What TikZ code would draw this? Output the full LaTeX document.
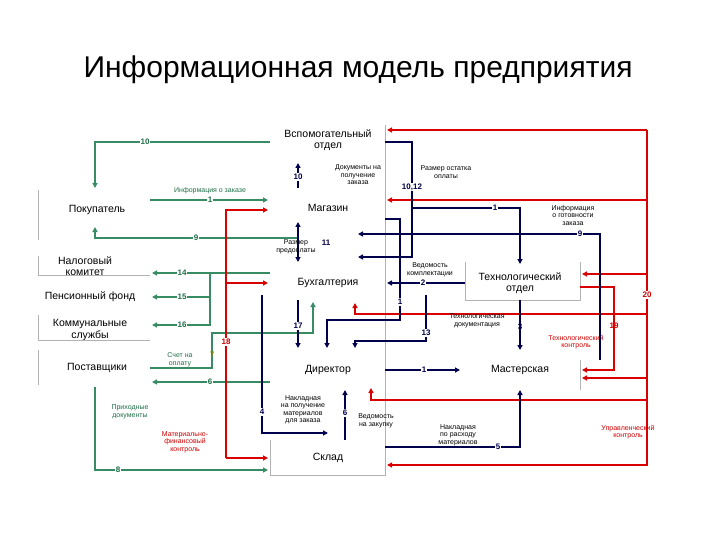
\documentclass[tikz,border=0pt]{standalone}
\usepackage{fontspec}
\setmainfont{Liberation Sans}
\usetikzlibrary{arrows.meta}
\definecolor{grn}{RGB}{55,140,100}
\definecolor{grt}{RGB}{30,110,70}
\begin{document}
\begin{tikzpicture}[x=1pt,y=-1pt,
  blk/.style={font=\fontsize{10.5}{11.5}\selectfont,align=center},
  sml/.style={font=\fontsize{7}{7.5}\selectfont,align=center,inner sep=1pt},
  num/.style={font=\bfseries\fontsize{8}{9}\selectfont,inner sep=1pt,fill=white},
  gr/.style={draw=grn,line width=1.4pt,-{Triangle[length=5pt,width=5pt]}},
  rd/.style={draw=red!85!black,line width=1.4pt,-{Triangle[length=5pt,width=5pt]}},
  nv/.style={draw=blue!30!black,line width=1.4pt,-{Triangle[length=5pt,width=5pt]}},
  frm/.style={draw=gray!60,line width=0.5pt}]
\useasboundingbox (0,0) rectangle (720,540);
\node[font=\fontsize{30}{33}\selectfont] (title) at (358,70) {Информационная модель предприятия};
% blocks
\node[blk] (pok) at (97,210) {Покупатель};
\node[blk] (nal) at (85,266) {Налоговый\\комитет};
\node[blk] (pen) at (90,297) {Пенсионный фонд};
\node[blk] (kom) at (90,330) {Коммунальные\\службы};
\node[blk] (pos) at (97,368) {Поставщики};
\node[blk] (vsp) at (328,140) {Вспомогательный\\отдел};
\node[blk] (mag) at (328,208) {Магазин};
\node[blk] (buh) at (328,283) {Бухгалтерия};
\node[blk] (dir) at (328,370) {Директор};
\node[blk] (skl) at (328,458) {Склад};
\node[blk] (teh) at (520,283) {Технологический\\отдел};
\node[blk] (mas) at (520,370) {Мастерская};
% frames
\draw[frm] (38,190) -- (38,240);
\draw[frm] (38,256) -- (38,275) -- (150,275);
\draw[frm] (38,315) -- (38,340) -- (150,340);
\draw[frm] (38,350) -- (38,385);
\draw[frm] (385,125) -- (385,475) -- (270,475) -- (270,440);
\draw[frm] (465,262) -- (465,300) -- (580,300) -- (580,262);
\draw[frm] (580,360) -- (580,390);
% green
\draw[gr] (270,142) -- (95,142) -- (95,188);
\node[num,text=grt] at (145,142) {10};
\draw[gr] (150,200) -- (268,200);
\node[sml,text=grt] at (210,191) {Информация о заказе};
\node[num,text=grt] at (210,200) {1};
\draw[gr] (298,228) -- (298,238) -- (95,238) -- (95,227);
\node[num,text=grt] at (196,238) {9};
\draw[gr] (270,273) -- (152,273);
\node[num,text=grt] at (182,273) {14};
\draw[gr] (210,273) -- (210,325) -- (152,325);
\node[num,text=grt] at (182,325) {16};
\draw[gr] (210,297) -- (152,297);
\node[num,text=grt] at (182,297) {15};
\draw[gr] (150,368) -- (212,368) -- (212,333) -- (313,333) -- (313,302);
\node[num,text=olive,fill=none] at (212,355) {7};
\node[sml,text=grt] at (180,360) {Счет на\\оплату};
\draw[gr] (270,382) -- (152,382);
\node[num,text=grt] at (210,382) {6};
\draw[gr] (95,387) -- (95,470) -- (268,470);
\node[num,text=grt] at (118,470) {8};
\node[sml,text=grt] at (130,412) {Приходные\\документы};
% red
\draw[rd] (226,458) -- (226,210) -- (268,210);
\draw[rd] (226,283) -- (268,283);
\draw[rd] (226,458) -- (268,458);
\node[num,text=red!80!black] at (226,342) {18};
\node[sml,text=red!80!black] at (185,442) {Материально-\\финансовый\\контроль};
\draw[rd] (647,130) -- (387,130);
\draw[rd] (647,130) -- (647,465) -- (387,465);
\draw[rd] (647,200) -- (387,200);
\draw[rd] (647,274) -- (582,274);
\draw[rd] (647,378) -- (582,378);
\node[num,text=red!80!black] at (647,295) {20};
\draw[rd] (647,314) -- (355,314) -- (355,303);
\draw[rd] (647,400) -- (371,400) -- (371,388);
\draw[rd] (580,287) -- (614,287) -- (614,370) -- (582,370);
\node[num,text=red!80!black,fill=none] at (614,326) {19};
\node[sml,text=red!80!black] at (576,342) {Технологический\\контроль};
\node[sml,text=red!80!black] at (628,432) {Управленческий\\контроль};
% navy
\draw[nv] (298,188) -- (298,163);
\node[num,text=blue!30!black] at (298,177) {10};
\node[sml] at (358,175) {Документы на\\получение\\заказа};
\draw[nv,{Triangle[length=5pt,width=5pt]}-{Triangle[length=5pt,width=5pt]}] (298,222) -- (298,262);
\node[sml] at (296,247) {Размер\\предоплаты};
\node[num,text=blue!30!black,fill=none] at (326,243) {11};
\draw[nv] (385,142) -- (412,142) -- (412,257) -- (358,257);
\node[num,text=blue!30!black] at (412,187) {10,12};
\node[sml] at (446,172) {Размер остатка\\оплаты};
\draw[nv] (412,208) -- (520,208) -- (520,264);
\node[num,text=blue!30!black] at (495,208) {1};
\draw[nv] (600,360) -- (600,234) -- (358,234);
\node[sml] at (573,215) {Информация\\о готовности\\заказа};
\node[num,text=blue!30!black] at (580,234) {9};
\draw[nv] (465,283) -- (387,283);
\node[sml] at (430,270) {Ведомость\\комплектации};
\node[num,text=blue!30!black] at (423,283) {2};
\draw[nv] (385,219) -- (400,219) -- (400,320) -- (327,320) -- (327,348);
\node[num,text=blue!30!black] at (400,302) {1};
\draw[nv] (426,295) -- (426,341) -- (355,341) -- (355,348);
\node[num,text=blue!30!black] at (426,333) {13};
\draw[nv] (298,300) -- (298,348);
\node[num,text=blue!30!black] at (298,326) {17};
\draw[nv] (262,295) -- (262,433) -- (328,433);
\node[num,text=blue!30!black] at (262,412) {4};
\node[sml] at (303,410) {Накладная\\на получение\\материалов\\для заказа};
\draw[nv] (345,440) -- (345,390);
\node[num,text=blue!30!black] at (345,413) {6};
\node[sml] at (376,421) {Ведомость\\на закупку};
\draw[nv] (520,300) -- (520,350);
\node[sml] at (477,321) {Технологическая\\документация};
\node[num,text=blue!30!black,fill=none] at (520,327) {3};
\draw[nv] (385,370) -- (460,370);
\node[num,text=blue!30!black] at (424,370) {1};
\draw[nv] (385,447) -- (520,447) -- (520,390);
\node[sml] at (458,435) {Накладная\\по расходу\\материалов};
\node[num,text=blue!30!black] at (498,447) {5};
\end{tikzpicture}
\end{document}
